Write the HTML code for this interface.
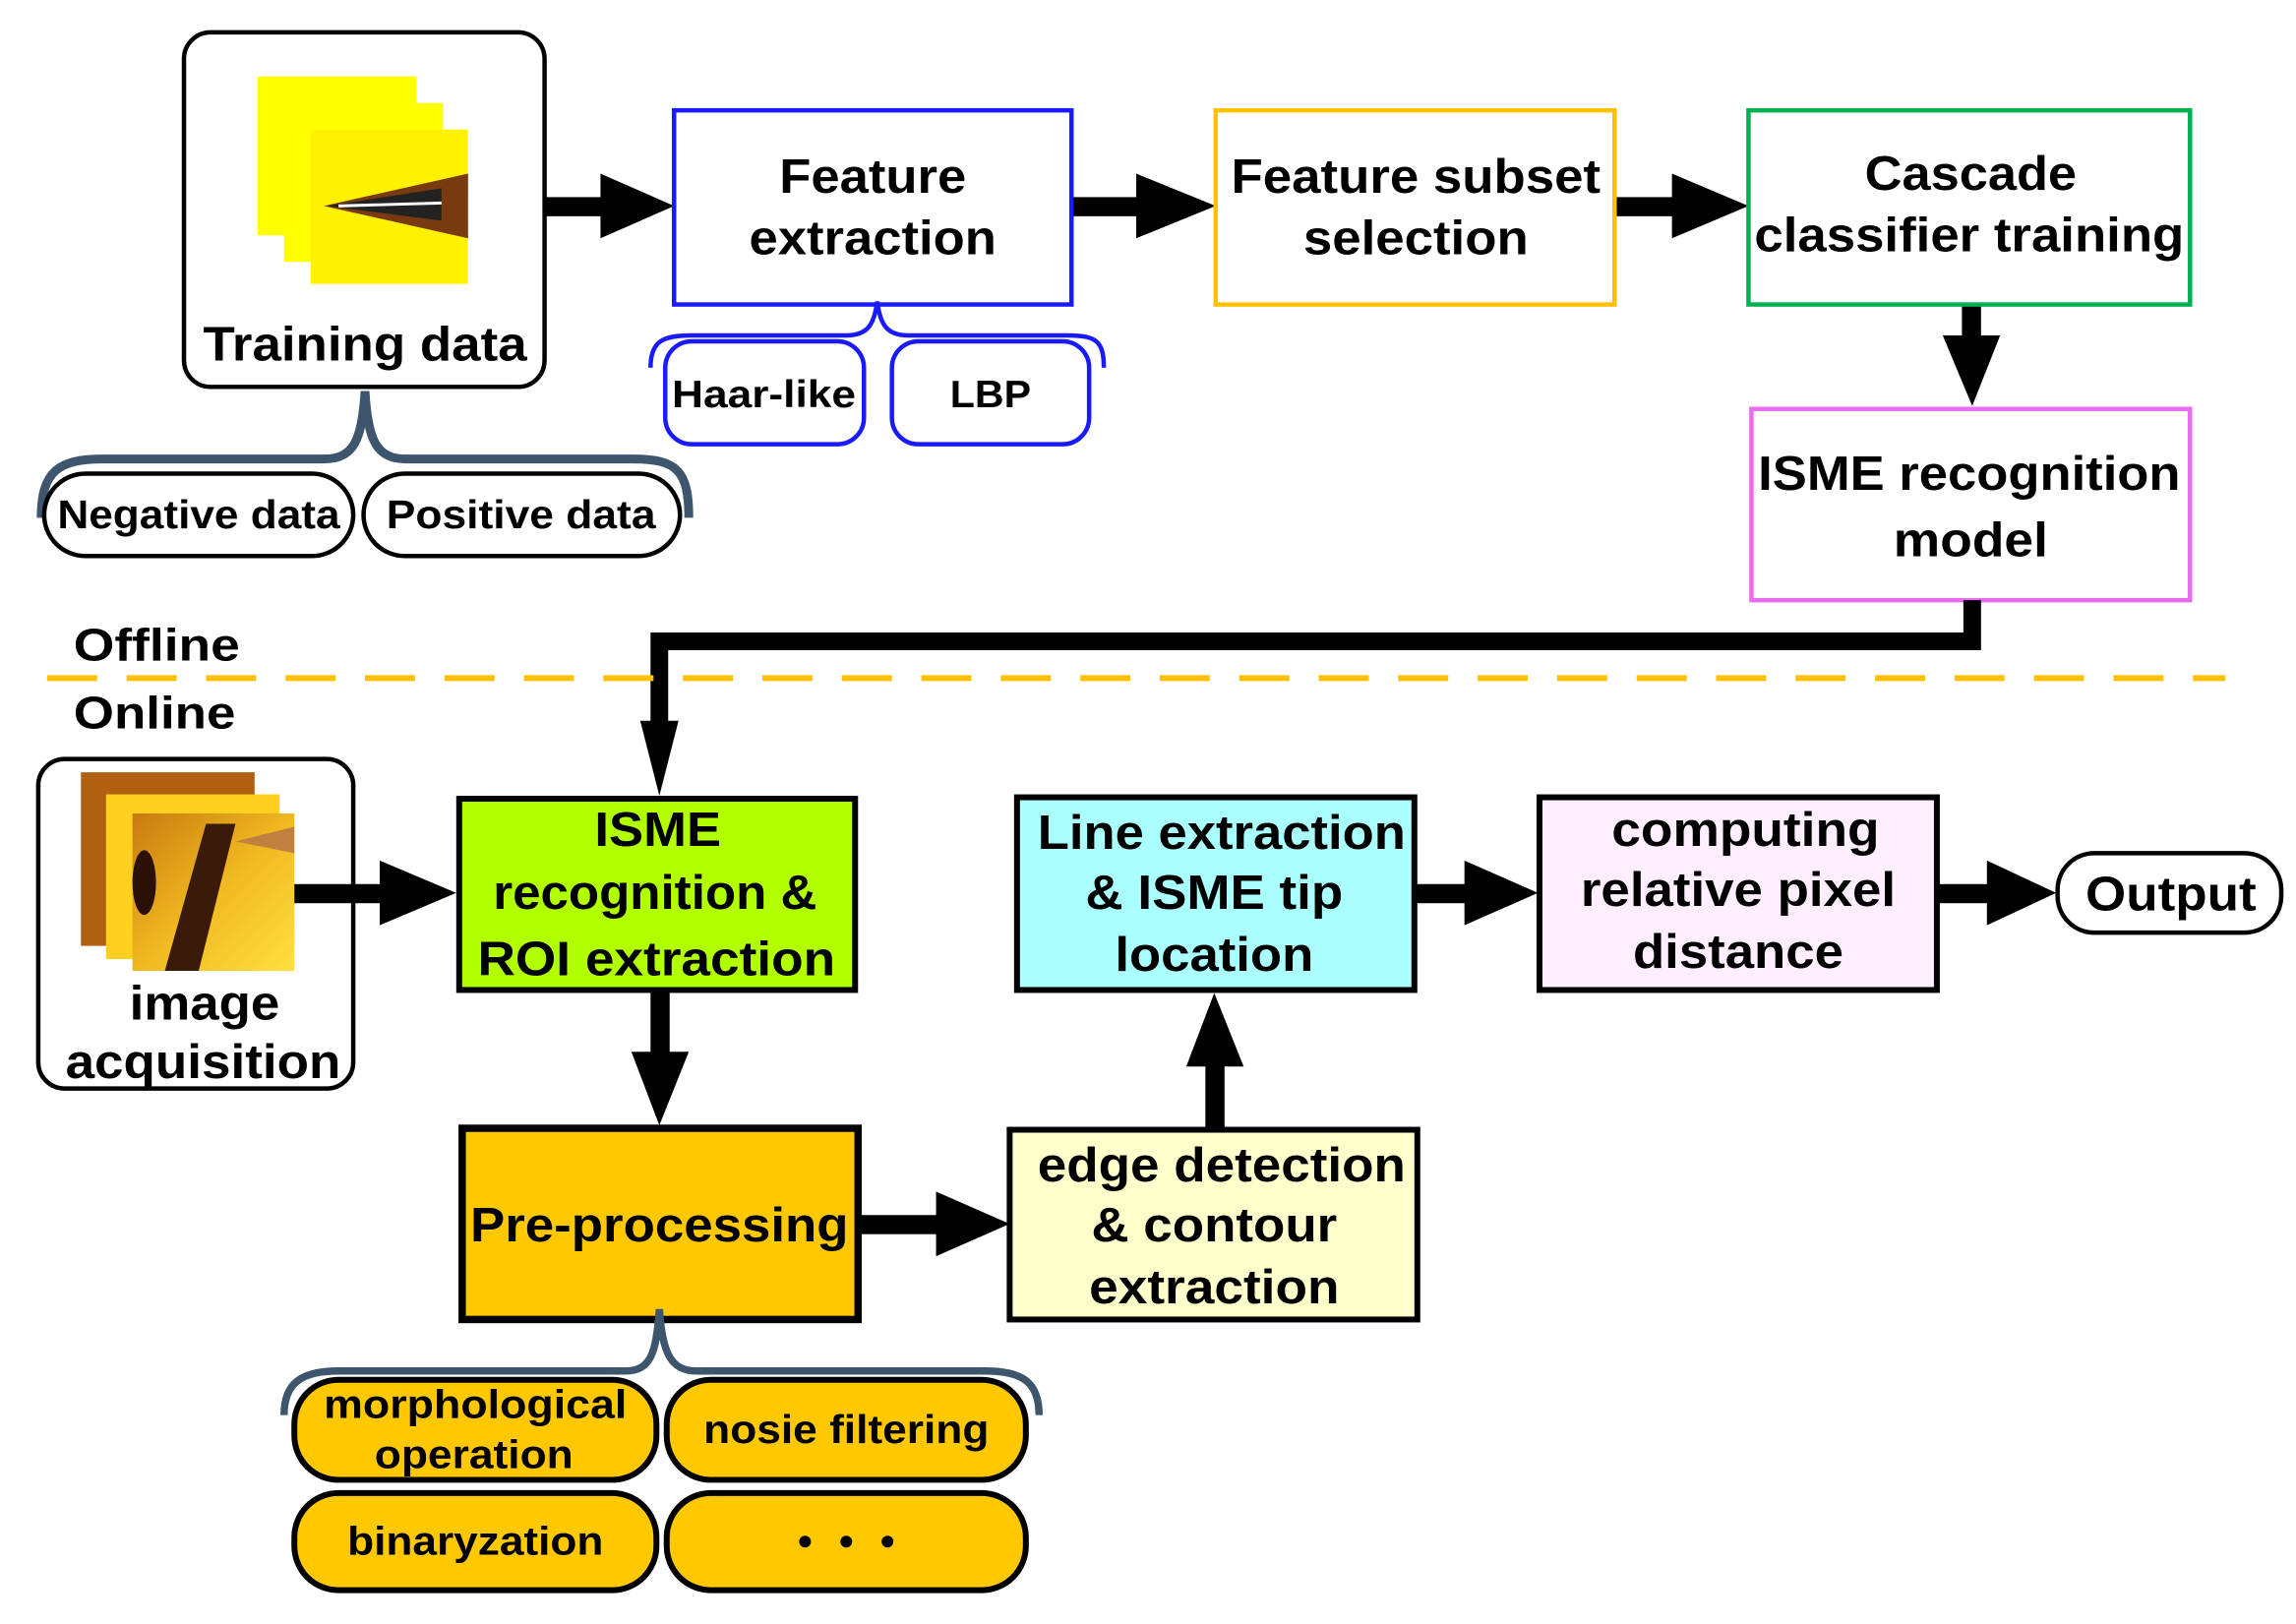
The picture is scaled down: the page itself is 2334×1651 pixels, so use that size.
<!DOCTYPE html>
<html><head><meta charset="utf-8"><style>html,body{margin:0;padding:0;background:#fff;}svg{display:block}</style></head>
<body>
<svg xmlns="http://www.w3.org/2000/svg" width="2334" height="1651" viewBox="0 0 1560 1104" preserveAspectRatio="none" font-family="Liberation Sans, Arial, sans-serif" font-weight="bold">
<defs>
<linearGradient id="ig" x1="0" y1="0" x2="1" y2="1"><stop offset="0" stop-color="#c87a10"/><stop offset="0.5" stop-color="#f0b820"/><stop offset="1" stop-color="#ffe040"/></linearGradient>
</defs>
<rect width="1560" height="1104" fill="#fff"/>

<!-- Training data -->
<rect x="125" y="22" width="245" height="241" rx="18" fill="#fff" stroke="#000" stroke-width="3"/>
<rect x="175" y="52" width="108" height="108" fill="#ffff00"/>
<rect x="193" y="70" width="108" height="108" fill="#ffff00"/>
<rect x="211" y="88" width="107" height="105" fill="#fff200"/>
<polygon points="220,140 318,118 318,162" fill="#7a3a10"/>
<polygon points="222,140 300,128 300,150" fill="#222"/>
<line x1="230" y1="140" x2="300" y2="138" stroke="#fff" stroke-width="2"/>
<text x="248" y="245" font-size="33" text-anchor="middle" textLength="220" lengthAdjust="spacingAndGlyphs">Training data</text>

<path d="M28,352 C28,320 40,312 70,312 L220,312 C240,312 246,300 248,266 C250,300 256,312 276,312 L430,312 C460,312 468,320 468,352" fill="none" stroke="#3d566e" stroke-width="6"/>
<rect x="30" y="322" width="210" height="56" rx="28" fill="#fff" stroke="#000" stroke-width="3"/>
<rect x="247" y="322" width="215" height="56" rx="28" fill="#fff" stroke="#000" stroke-width="3"/>
<text x="135" y="359" font-size="27" text-anchor="middle" textLength="192" lengthAdjust="spacingAndGlyphs">Negative data</text>
<text x="354" y="359" font-size="27" text-anchor="middle" textLength="183" lengthAdjust="spacingAndGlyphs">Positive data</text>

<!-- arrows top row -->
<g fill="#000">
<rect x="370" y="134" width="44" height="13"/><polygon points="408,118 458,140 408,162"/>
<rect x="728" y="134" width="48" height="13"/><polygon points="772,118 826,140 772,162"/>
<rect x="1097" y="134" width="44" height="13"/><polygon points="1136,118 1188,140 1136,162"/>
<rect x="1333" y="207" width="13" height="26"/><polygon points="1320,228 1340,276 1359,228"/>
</g>

<!-- Feature extraction -->
<rect x="458" y="75" width="270" height="132" fill="#fff" stroke="#1a1aff" stroke-width="3"/>
<text x="593" y="131" font-size="33" text-anchor="middle" textLength="127" lengthAdjust="spacingAndGlyphs">Feature</text>
<text x="593" y="173" font-size="33" text-anchor="middle" textLength="168" lengthAdjust="spacingAndGlyphs">extraction</text>
<path d="M442,250 C442,232 450,228 470,228 L575,228 C590,228 594,220 596,205 C598,220 602,228 617,228 L725,228 C745,228 750,232 750,250" fill="none" stroke="#1a1aff" stroke-width="3"/>
<rect x="452" y="232" width="135" height="70" rx="18" fill="#fff" stroke="#1a1aff" stroke-width="3"/>
<rect x="606" y="232" width="134" height="70" rx="18" fill="#fff" stroke="#1a1aff" stroke-width="3"/>
<text x="519" y="277" font-size="26" text-anchor="middle" textLength="125" lengthAdjust="spacingAndGlyphs">Haar-like</text>
<text x="673" y="277" font-size="26" text-anchor="middle" textLength="55" lengthAdjust="spacingAndGlyphs">LBP</text>

<!-- Feature subset -->
<rect x="826" y="75" width="271" height="132" fill="#fff" stroke="#ffc000" stroke-width="3"/>
<text x="962" y="131" font-size="33" text-anchor="middle" textLength="251" lengthAdjust="spacingAndGlyphs">Feature subset</text>
<text x="962" y="173" font-size="33" text-anchor="middle" textLength="153" lengthAdjust="spacingAndGlyphs">selection</text>

<!-- Cascade -->
<rect x="1188" y="75" width="300" height="132" fill="#fff" stroke="#00b050" stroke-width="3"/>
<text x="1339" y="129" font-size="33" text-anchor="middle" textLength="144" lengthAdjust="spacingAndGlyphs">Cascade</text>
<text x="1338" y="171" font-size="33" text-anchor="middle" textLength="292" lengthAdjust="spacingAndGlyphs">classifier training</text>

<!-- ISME recognition model -->
<rect x="1190" y="278" width="298" height="130" fill="#fff" stroke="#ea6af0" stroke-width="3"/>
<text x="1338" y="333" font-size="33" text-anchor="middle" textLength="287" lengthAdjust="spacingAndGlyphs">ISME recognition</text>
<text x="1339" y="378" font-size="33" text-anchor="middle" textLength="105" lengthAdjust="spacingAndGlyphs">model</text>

<!-- long connector -->
<path d="M1340,408 L1340,436 L448,436 L448,500" fill="none" stroke="#000" stroke-width="12"/>
<polygon points="435,490 448,541 461,490" fill="#000"/>

<!-- offline/online -->
<text x="50" y="449" font-size="31" textLength="113" lengthAdjust="spacingAndGlyphs">Offline</text>
<line x1="32" y1="461" x2="1512" y2="461" stroke="#ffc000" stroke-width="4" stroke-dasharray="34,20"/>
<text x="50" y="495" font-size="31" textLength="110" lengthAdjust="spacingAndGlyphs">Online</text>

<!-- image acquisition -->
<rect x="26" y="516" width="214" height="224" rx="18" fill="#fff" stroke="#000" stroke-width="3"/>
<rect x="55" y="525" width="118" height="118" fill="#b06010"/>
<rect x="72" y="540" width="118" height="112" fill="#ffd020"/>
<rect x="90" y="553" width="110" height="107" fill="url(#ig)"/>
<polygon points="112,660 140,560 160,560 135,660" fill="#3a1a08"/>
<ellipse cx="98" cy="600" rx="8" ry="22" fill="#2a1006"/>
<polygon points="160,572 200,562 200,580" fill="#c08040"/>
<text x="139" y="693" font-size="33" text-anchor="middle" textLength="102" lengthAdjust="spacingAndGlyphs">image</text>
<text x="138" y="733" font-size="33" text-anchor="middle" textLength="187" lengthAdjust="spacingAndGlyphs">acquisition</text>

<g fill="#000">
<rect x="200" y="601" width="65" height="13"/><polygon points="258,585 310,607 258,629"/>
<rect x="442" y="673" width="13" height="50"/><polygon points="429,715 448,765 468,715"/>
<rect x="583" y="826" width="60" height="13"/><polygon points="636,810 686,832 636,854"/>
<rect x="819" y="720" width="13" height="48"/><polygon points="806,725 825,675 845,725"/>
<rect x="961" y="601" width="40" height="13"/><polygon points="995,585 1045,607 995,629"/>
<rect x="1316" y="601" width="40" height="13"/><polygon points="1350,585 1397,607 1350,629"/>
</g>

<!-- ISME recognition & ROI -->
<rect x="312" y="543" width="269" height="130" fill="#b2ff00" stroke="#000" stroke-width="4"/>
<text x="447" y="575" font-size="33" text-anchor="middle" textLength="86" lengthAdjust="spacingAndGlyphs">ISME</text>
<text x="445" y="618" font-size="33" text-anchor="middle" textLength="220" lengthAdjust="spacingAndGlyphs">recognition &amp;</text>
<text x="446" y="663" font-size="33" text-anchor="middle" textLength="243" lengthAdjust="spacingAndGlyphs">ROI extraction</text>

<!-- Pre-processing -->
<rect x="314" y="767" width="269" height="130" fill="#ffc800" stroke="#000" stroke-width="5"/>
<text x="448" y="844" font-size="33" text-anchor="middle" textLength="257" lengthAdjust="spacingAndGlyphs">Pre-processing</text>

<!-- edge detection -->
<rect x="686" y="768" width="277" height="129" fill="#ffffcc" stroke="#000" stroke-width="4"/>
<text x="830" y="803" font-size="33" text-anchor="middle" textLength="250" lengthAdjust="spacingAndGlyphs">edge detection</text>
<text x="825" y="844" font-size="33" text-anchor="middle" textLength="167" lengthAdjust="spacingAndGlyphs">&amp; contour</text>
<text x="825" y="886" font-size="33" text-anchor="middle" textLength="170" lengthAdjust="spacingAndGlyphs">extraction</text>

<!-- Line extraction -->
<rect x="691" y="542" width="270" height="131" fill="#aaffff" stroke="#000" stroke-width="4"/>
<text x="830" y="577" font-size="33" text-anchor="middle" textLength="250" lengthAdjust="spacingAndGlyphs">Line extraction</text>
<text x="825" y="618" font-size="33" text-anchor="middle" textLength="175" lengthAdjust="spacingAndGlyphs">&amp; ISME tip</text>
<text x="825" y="660" font-size="33" text-anchor="middle" textLength="135" lengthAdjust="spacingAndGlyphs">location</text>

<!-- computing -->
<rect x="1046" y="542" width="270" height="131" fill="#ffeeff" stroke="#000" stroke-width="4"/>
<text x="1186" y="575" font-size="33" text-anchor="middle" textLength="182" lengthAdjust="spacingAndGlyphs">computing</text>
<text x="1181" y="616" font-size="33" text-anchor="middle" textLength="214" lengthAdjust="spacingAndGlyphs">relative pixel</text>
<text x="1181" y="658" font-size="33" text-anchor="middle" textLength="143" lengthAdjust="spacingAndGlyphs">distance</text>

<!-- Output -->
<rect x="1398" y="580" width="152" height="54" rx="25" fill="#fff" stroke="#000" stroke-width="3"/>
<text x="1475" y="619" font-size="33" text-anchor="middle" textLength="116" lengthAdjust="spacingAndGlyphs">Output</text>

<!-- preprocessing brace and pills -->
<path d="M193,962 C193,940 205,932 230,932 L425,932 C442,932 446,920 448,890 C450,920 456,932 473,932 L670,932 C695,932 706,940 706,962" fill="none" stroke="#3d566e" stroke-width="5"/>
<g fill="#ffc800" stroke="#000" stroke-width="4">
<rect x="200" y="938" width="246" height="68" rx="30"/>
<rect x="453" y="938" width="244" height="68" rx="30"/>
<rect x="200" y="1015" width="246" height="66" rx="30"/>
<rect x="453" y="1015" width="244" height="66" rx="30"/>
</g>
<text x="323" y="964" font-size="27" text-anchor="middle" textLength="206" lengthAdjust="spacingAndGlyphs">morphological</text>
<text x="322" y="998" font-size="27" text-anchor="middle" textLength="135" lengthAdjust="spacingAndGlyphs">operation</text>
<text x="575" y="981" font-size="27" text-anchor="middle" textLength="194" lengthAdjust="spacingAndGlyphs">nosie filtering</text>
<text x="323" y="1057" font-size="27" text-anchor="middle" textLength="174" lengthAdjust="spacingAndGlyphs">binaryzation</text>
<g fill="#000"><circle cx="547" cy="1048" r="4"/><circle cx="575" cy="1048" r="4"/><circle cx="603" cy="1048" r="4"/></g>
</svg>
</body></html>
